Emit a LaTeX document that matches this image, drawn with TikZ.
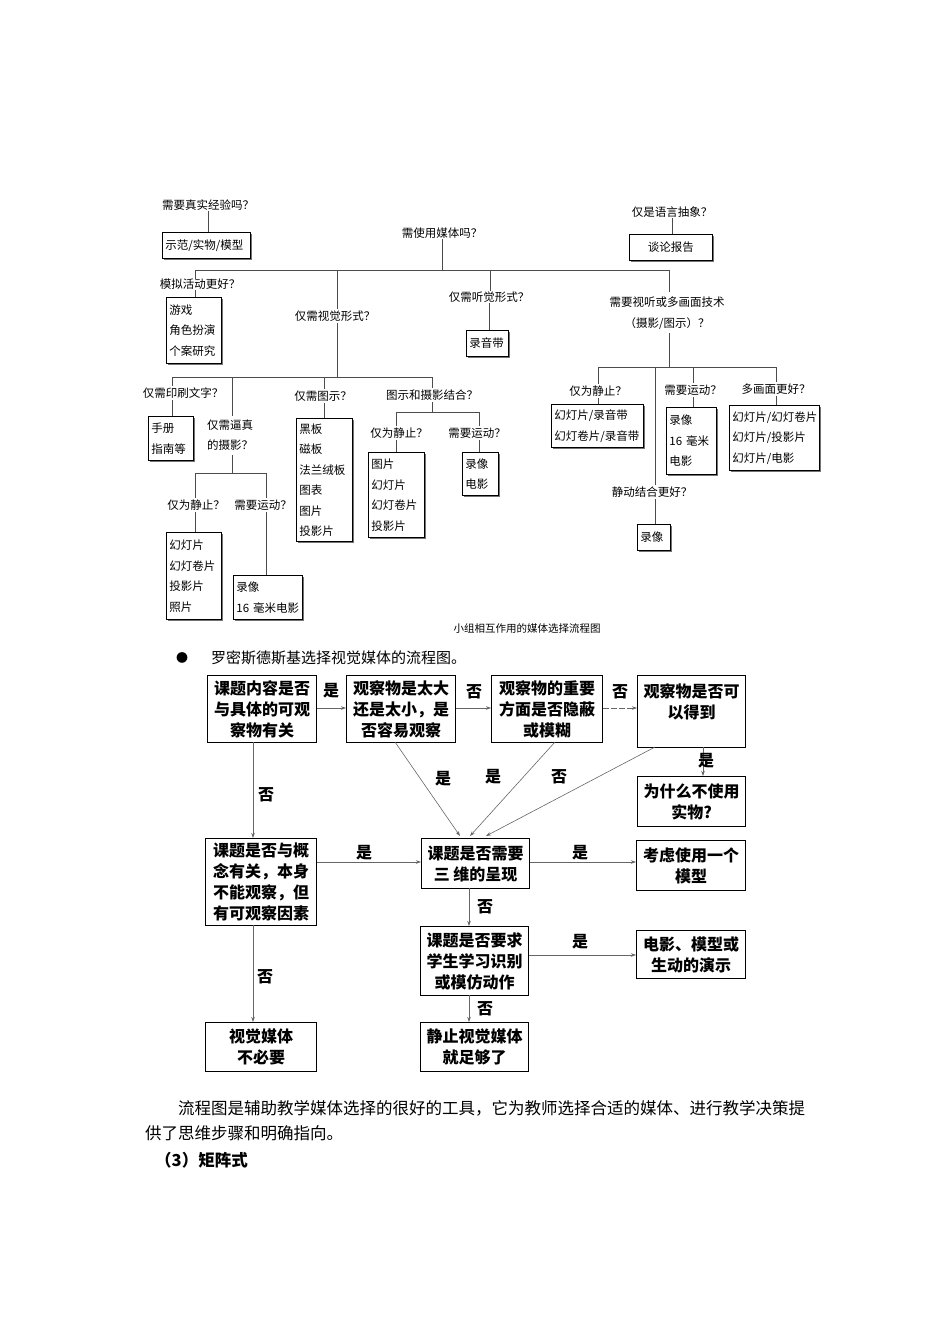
\documentclass[tikz,border=0pt]{standalone}
\usepackage{fontspec}
\setmainfont{Noto Sans CJK SC}
\usetikzlibrary{arrows.meta}
\tikzset{
  q/.style={inner sep=0pt,font=\fontsize{11.5}{13}\selectfont},
  tb/.style={draw,line width=0.9pt,fill=white,anchor=north west,align=left,inner xsep=3pt,inner ysep=0pt,
     font=\fontsize{11.5}{20.5}\selectfont,
     preaction={fill=black!55,transform canvas={shift={(2pt,-2pt)}}}},
  tl/.style={draw=black!70,line width=0.9pt},
  bb/.style={draw,line width=1.3pt,anchor=north west,align=center,inner sep=0pt,
     font=\fontsize{16}{21}\selectfont\bfseries},
  ar/.style={draw=black!60,line width=0.6pt,-{Stealth[length=5pt,width=3.5pt]}},
  lb/.style={inner sep=0pt,font=\fontsize{16}{18}\selectfont\bfseries},
}
\begin{document}
\begin{tikzpicture}[x=1pt,y=-1pt]
\useasboundingbox (0,0) rectangle (950,1344);
% ---------- top tree ----------
\node[q] (q1) at (208,205) {需要真实经验吗？};
\node[tb,text width=82pt,minimum height=26pt] (b1) at (162,232) {示范/实物/模型};
\draw[tl] (q1.south) -- (q1.south |- b1.north);
\node[q] (q2) at (672,212) {仅是语言抽象？};
\node[tb,text width=77pt,minimum height=26pt,align=center] (b2) at (629,234) {谈论报告};
\draw[tl] (q2.south) -- (q2.south |- b2.north);
\node[q] (q3) at (442,233) {需使用媒体吗？};
\coordinate (h1l) at (195,270); \coordinate (h1r) at (669,270);
\draw[tl] (q3.south) -- (q3.south |- h1l);
\draw[tl] (h1l) -- (h1r);
\node[q] (q4) at (200,284) {模拟活动更好？};
\node[tb,text width=49pt,minimum height=66pt] (b4) at (166,297) {游戏\\角色扮演\\个案研究};
\draw[tl] (h1l) -- (h1l |- q4.north);
\draw[tl] (195,290) -- (195,297);
\node[q] (q5) at (335,316) {仅需视觉形式？};
\draw[tl] (337,270) -- (337,309);
\node[q] (q6) at (489,297) {仅需听觉形式？};
\node[tb,text width=36pt,minimum height=26pt] (b6) at (466,330) {录音带};
\draw[tl] (490,270) -- (490,291);
\draw[tl] (q6.south) -- (q6.south |- b6.north);
\node[q,align=center] (q7) at (667,313) {需要视听或多画面技术\\[8pt]（摄影/图示）？};
\draw[tl] (h1r) -- (669,292);
% visual branch
\coordinate (h2l) at (172,377); \coordinate (h2r) at (432,377);
\draw[tl] (337,323) -- (337,377);
\draw[tl] (h2l) -- (h2r);
\node[q] (q8) at (183,393) {仅需印刷文字？};
\node[tb,text width=39pt,minimum height=44pt] (b8) at (148,416) {手册\\指南等};
\draw[tl] (h2l) -- (172,386); \draw[tl] (172,400) -- (172,416);
\node[q,align=left,anchor=west,font=\fontsize{11.5}{20.5}\selectfont] (q9) at (207,435) {仅需逼真\\的摄影？};
\draw[tl] (232,377) -- (232,416); \draw[tl] (232,455) -- (232,473);
\coordinate (h3l) at (195,473); \coordinate (h3r) at (266,473);
\draw[tl] (h3l) -- (h3r);
\node[q] (q10) at (196,505) {仅为静止？};
\node[tb,text width=49pt,minimum height=87pt] (b10) at (166,532) {幻灯片\\幻灯卷片\\投影片\\照片};
\draw[tl] (h3l) -- (195,498); \draw[tl] (195,512) -- (195,532);
\node[q] (q11) at (263,505) {需要运动？};
\node[tb,text width=63pt,minimum height=44pt] (b11) at (233,575) {录像\\16 毫米电影};
\draw[tl] (h3r) -- (266,498); \draw[tl] (266,512) -- (266,575);
\node[q] (q12) at (323,396) {仅需图示？};
\node[tb,text width=50pt,minimum height=123pt] (b12) at (296,418) {黑板\\磁板\\法兰绒板\\图表\\图片\\投影片};
\draw[tl] (324,377) -- (324,389); \draw[tl] (324,403) -- (324,418);
\node[q] (q13) at (432,395) {图示和摄影结合？};
\draw[tl] (h2r) -- (432,388); \draw[tl] (432,402) -- (432,412);
\coordinate (h4l) at (396,412); \coordinate (h4r) at (479,412);
\draw[tl] (h4l) -- (h4r);
\node[q] (q14) at (399,433) {仅为静止？};
\node[tb,text width=50pt,minimum height=85pt] (b14) at (368,452) {图片\\幻灯片\\幻灯卷片\\投影片};
\draw[tl] (h4l) -- (396,426); \draw[tl] (396,440) -- (396,452);
\node[q] (q15) at (477,433) {需要运动？};
\node[tb,text width=30pt,minimum height=43pt] (b15) at (462,452) {录像\\电影};
\draw[tl] (h4r) -- (479,426); \draw[tl] (479,440) -- (479,452);
% audiovisual branch
\coordinate (h5l) at (598,367); \coordinate (h5r) at (776,367);
\draw[tl] (669,333) -- (669,367);
\draw[tl] (h5l) -- (h5r);
\node[q] (q16) at (598,391) {仅为静止？};
\node[tb,text width=86pt,minimum height=43pt] (b16) at (551,404) {幻灯片/录音带\\幻灯卷片/录音带};
\draw[tl] (h5l) -- (598,384); \draw[tl] (598,398) -- (598,404);
\node[q] (q17) at (693,390) {需要运动？};
\node[tb,text width=44pt,minimum height=67pt] (b17) at (666,407) {录像\\16 毫米\\电影};
\draw[tl] (693,367) -- (693,383); \draw[tl] (693,397) -- (693,407);
\node[q] (q18) at (776,389) {多画面更好？};
\node[tb,text width=84pt,minimum height=65pt] (b18) at (729,405) {幻灯片/幻灯卷片\\幻灯片/投影片\\幻灯片/电影};
\draw[tl] (h5r) -- (776,382); \draw[tl] (776,396) -- (776,405);
\node[q] (q19) at (652,492) {静动结合更好？};
\node[tb,text width=27pt,minimum height=26pt] (b19) at (637,524) {录像};
\draw[tl] (655,367) -- (655,485); \draw[tl] (655,499) -- (655,524);
\node[inner sep=0pt,font=\fontsize{10.5}{12}\selectfont] (cap) at (527,629) {小组相互作用的媒体选择流程图};
% ---------- bullet ----------
\node[inner sep=0pt,font=\fontsize{12}{14}\selectfont] (bul) at (182,658) {●};
\node[inner sep=0pt,anchor=west,font=\fontsize{15}{17}\selectfont] (bt) at (211,658) {罗密斯德斯基选择视觉媒体的流程图。};
% ---------- bottom flowchart ----------
\node[bb,minimum width=109pt,minimum height=67pt] (c1) at (207,675) {课题内容是否\\与具体的可观\\察物有关};
\node[bb,minimum width=109pt,minimum height=67pt] (c2) at (346,675) {观察物是太大\\还是太小，是\\否容易观察};
\node[bb,minimum width=111pt,minimum height=67pt] (c3) at (491,675) {观察物的重要\\方面是否隐蔽\\或模糊};
\node[bb,minimum width=108pt,minimum height=72pt,align=center] (c4) at (637,675) {观察物是否可\\以得到\\~};
\node[bb,minimum width=108pt,minimum height=50pt] (c5) at (637,776) {为什么不使用\\实物?};
\node[bb,minimum width=111pt,minimum height=87pt] (c6) at (205,838) {课题是否与概\\念有关，本身\\不能观察，但\\有可观察因素};
\node[bb,minimum width=108pt,minimum height=50pt] (c7) at (421,838) {课题是否需要\\三 维的呈现};
\node[bb,minimum width=109pt,minimum height=50pt] (c8) at (636,840) {考虑使用一个\\模型};
\node[bb,minimum width=108pt,minimum height=69pt] (c9) at (420,926) {课题是否要求\\学生学习识别\\或模仿动作};
\node[bb,minimum width=109pt,minimum height=48pt] (c10) at (636,930) {电影、模型或\\生动的演示};
\node[bb,minimum width=111pt,minimum height=49pt] (c11) at (205,1022) {视觉媒体\\不必要};
\node[bb,minimum width=108pt,minimum height=49pt] (c12) at (420,1022) {静止视觉媒体\\就足够了};
\draw[ar] (c1.east |- 0,708) -- (c2.west |- 0,708);
\node[lb] (l1) at (331,691) {是};
\draw[ar] (c2.east |- 0,708) -- (c3.west |- 0,708);
\node[lb] (l2) at (474,692) {否};
\draw[ar,dashed,dash pattern=on 6pt off 2pt] (c3.east |- 0,708) -- (c4.west |- 0,708);
\node[lb] (l3) at (620,692) {否};
\draw[ar] (703,747) -- (c5.north -| 703,0);
\node[lb] (l4) at (706,761) {是};
\draw[ar] (253,742) -- (253,838);
\node[lb] (l5) at (266,795) {否};
\draw[ar] (395,742) -- (460,836);
\node[lb] (l6) at (443,779) {是};
\draw[ar] (555,742) -- (470,836);
\node[lb] (l7) at (493,777) {是};
\draw[ar] (655,747) -- (486,836);
\node[lb] (l8) at (559,777) {否};
\draw[ar] (c6.east |- 0,862) -- (c7.west |- 0,862);
\node[lb] (l9) at (364,853) {是};
\draw[ar] (c7.east |- 0,862) -- (c8.west |- 0,862);
\node[lb] (l10) at (580,853) {是};
\draw[ar] (469,888) -- (469,926);
\node[lb] (l11) at (485,907) {否};
\draw[ar] (c9.east |- 0,955) -- (c10.west |- 0,955);
\node[lb] (l12) at (580,942) {是};
\draw[ar] (253,925) -- (253,1022);
\node[lb] (l13) at (265,977) {否};
\draw[ar] (469,995) -- (469,1022);
\node[lb] (l14) at (485,1009) {否};
% ---------- paragraph ----------
\node[inner sep=0pt,anchor=west,font=\fontsize{16.5}{18}\selectfont] (p1) at (178,1108) {流程图是辅助教学媒体选择的很好的工具，它为教师选择合适的媒体、进行教学决策提};
\node[inner sep=0pt,anchor=west,font=\fontsize{16.5}{18}\selectfont] (p2) at (145,1133) {供了思维步骤和明确指向。};
\node[inner sep=0pt,anchor=west,font=\fontsize{16.5}{18}\selectfont\bfseries] (p3) at (155,1160) {（3）矩阵式};
\end{tikzpicture}
\end{document}
